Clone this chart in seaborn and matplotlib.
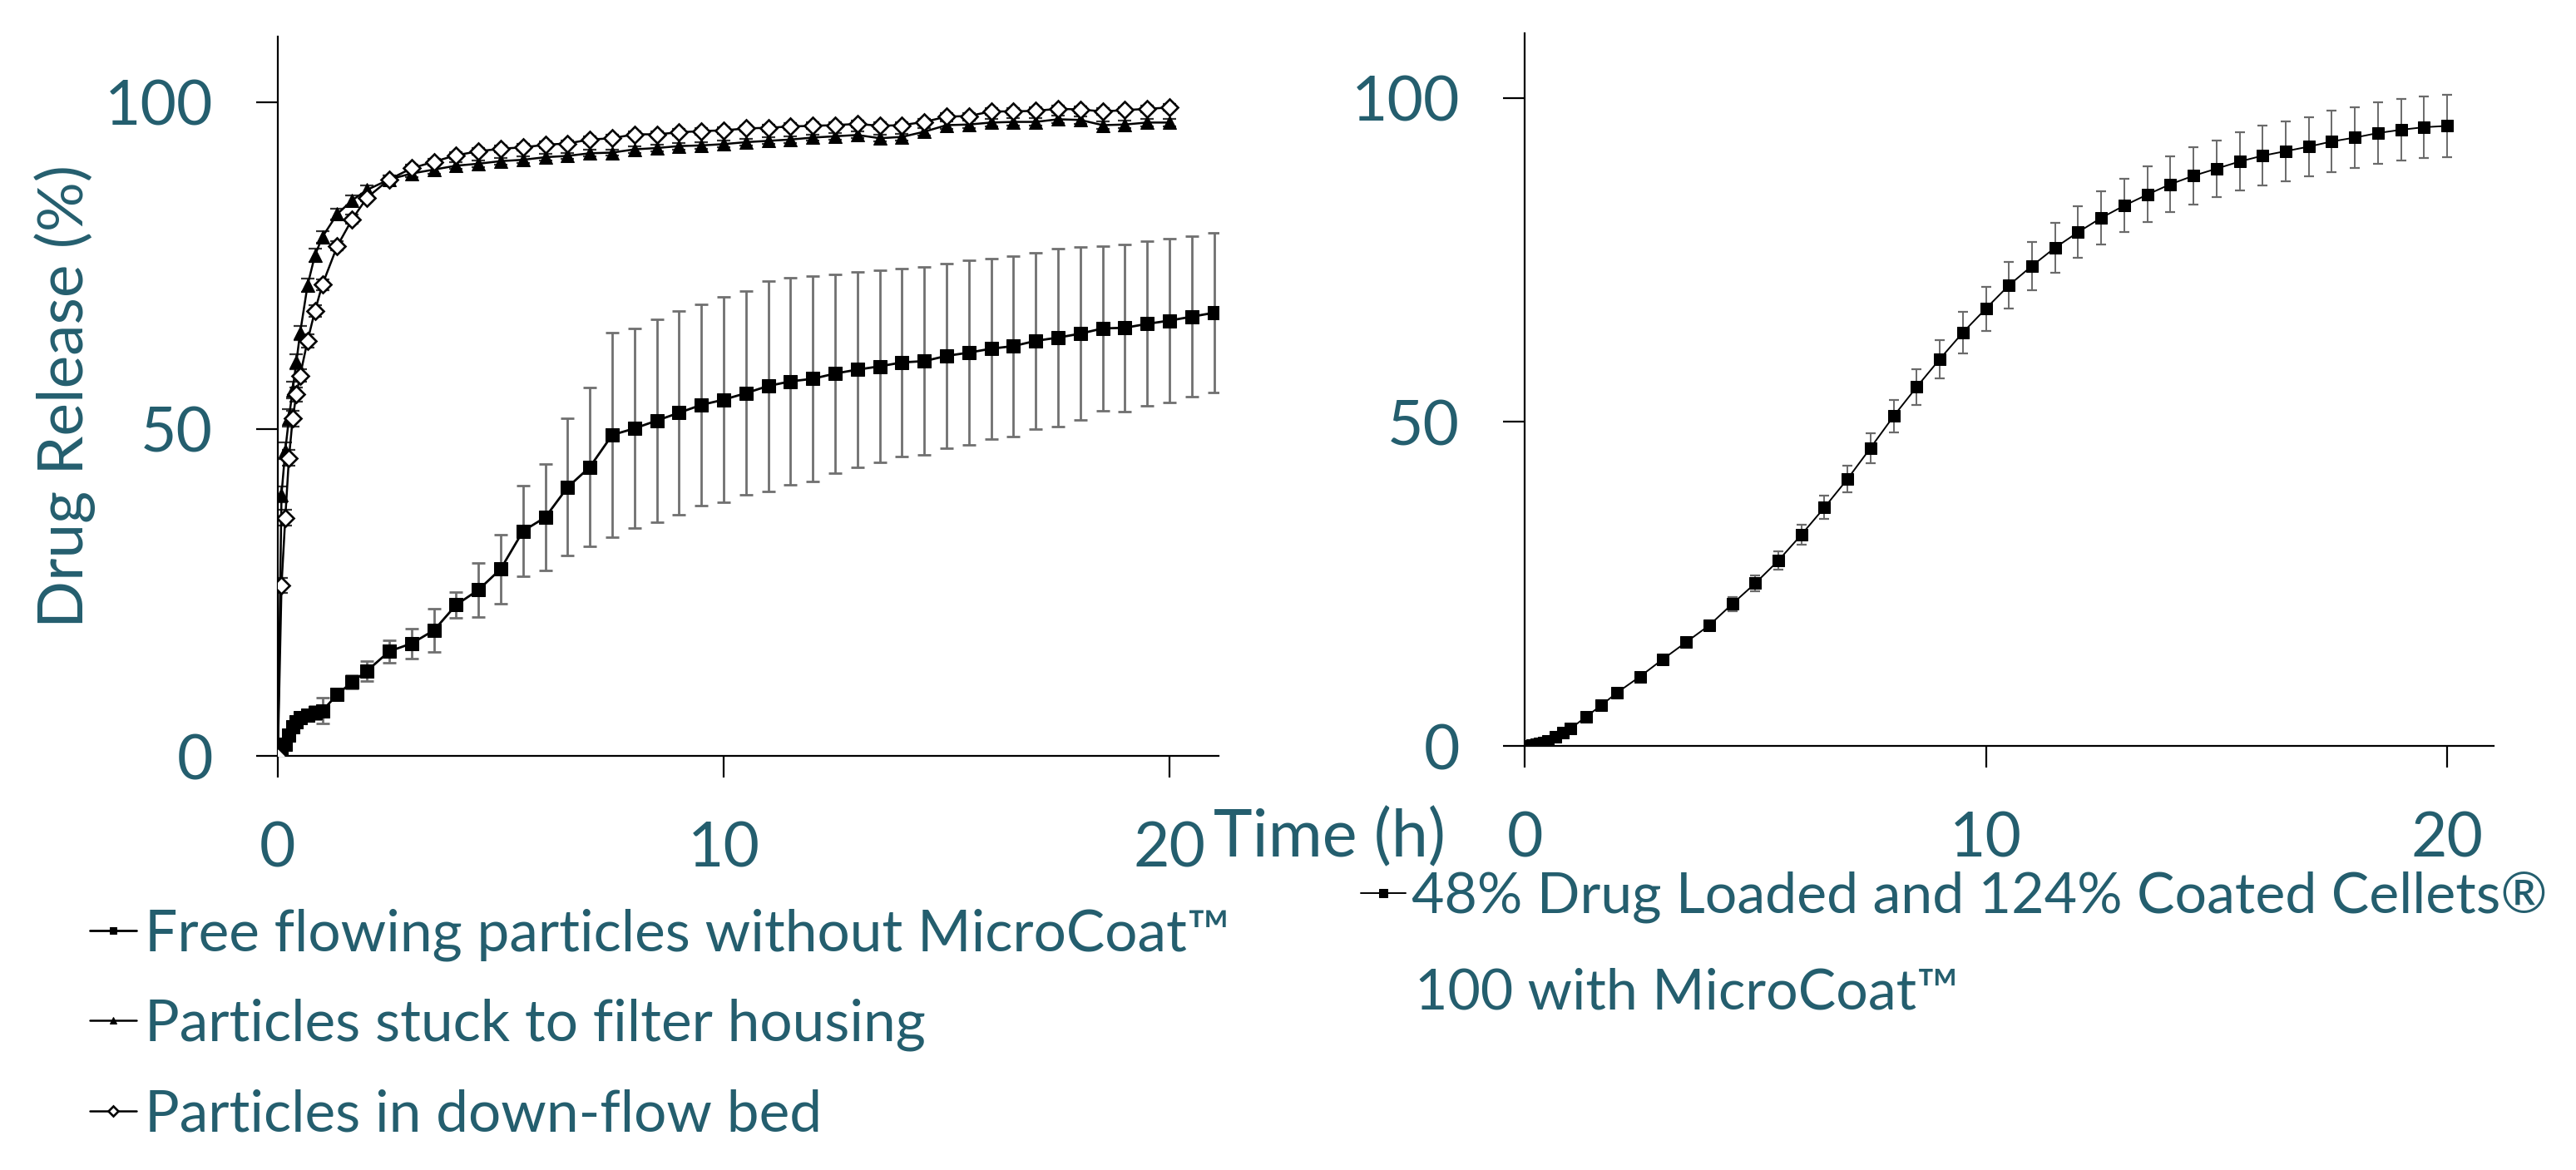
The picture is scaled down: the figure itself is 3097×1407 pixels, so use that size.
import matplotlib
matplotlib.use("Agg")
import matplotlib.pyplot as plt
import pandas as pd
import seaborn as sns

# ---------------- data ----------------
time_left = [0, 0.083, 0.167, 0.25, 0.333, 0.417, 0.5, 0.667, 0.833, 1.0, 1.333, 1.667,
             2, 2.5, 3, 3.5, 4, 4.5, 5, 5.5, 6, 6.5, 7, 7.5, 8, 8.5, 9, 9.5, 10, 10.5,
             11, 11.5, 12, 12.5, 13, 13.5, 14, 14.5, 15, 15.5, 16, 16.5, 17, 17.5, 18,
             18.5, 19, 19.5, 20, 20.5, 21]

free_release = [0, 1.0, 1.8, 3.2, 4.5, 5.2, 5.8, 6.2, 6.6, 6.9, 9.4, 11.3,
                13.0, 16.0, 17.2, 19.2, 23.1, 25.4, 28.6, 34.4, 36.5, 41.1,
                44.2, 49.1, 50.1, 51.3, 52.5, 53.7, 54.5, 55.5, 56.6, 57.3,
                57.7, 58.5, 59.1, 59.6, 60.2, 60.4, 61.2, 61.7, 62.3, 62.7,
                63.5, 64.0, 64.6, 65.4, 65.5, 66.1, 66.6, 67.2, 67.8]
free_err = [0, 0.3, 0.4, 0.5, 0.6, 0.7, 0.8, 0.9, 1.0, 2.0, 0.6, 1.0,
            1.5, 1.7, 2.3, 3.3, 2.0, 4.1, 5.3, 6.9, 8.1, 10.5,
            12.1, 15.6, 15.3, 15.5, 15.6, 15.4, 15.7, 15.6, 16.1, 15.8,
            15.7, 15.2, 15.0, 14.7, 14.4, 14.4, 14.1, 14.1, 13.8, 13.8,
            13.5, 13.6, 13.2, 12.6, 12.8, 12.6, 12.5, 12.3, 12.2]

stuck_release = [0, 40.0, 46.7, 51.7, 56.0, 60.3, 64.7, 72.0, 76.6, 79.4, 82.9, 85.0,
                 86.6, 88.2, 89.1, 89.7, 90.3, 90.6, 91.0, 91.2, 91.6, 91.8,
                 92.2, 92.3, 92.8, 93.0, 93.3, 93.4, 93.6, 93.9, 94.1, 94.3,
                 94.6, 94.8, 95.0, 94.5, 94.7, 95.5, 96.5, 96.6, 96.9, 97.0,
                 97.0, 97.4, 97.3, 96.5, 96.6, 96.9, 96.9]
stuck_err = [0, 1.2, 1.3, 1.3, 1.3, 1.2, 1.1, 1.0, 1.0, 0.9, 0.8, 0.8,
             0.7, 0.6, 0.6, 0.6, 0.5, 0.5, 0.5, 0.5, 0.5, 0.5,
             0.5, 0.5, 0.5, 0.5, 0.5, 0.5, 0.5, 0.5, 0.5, 0.5,
             0.5, 0.5, 0.5, 0.5, 0.5, 0.6, 0.6, 0.6, 0.6, 0.6,
             0.6, 0.6, 0.6, 0.6, 0.6, 0.6, 0.6]

down_release = [0, 26.1, 36.4, 45.6, 51.6, 55.3, 58.2, 63.5, 68.1, 72.1, 78.0, 82.1,
                85.4, 88.2, 89.9, 90.9, 91.9, 92.5, 92.9, 93.1, 93.5, 93.7,
                94.3, 94.5, 95.1, 95.1, 95.4, 95.6, 95.7, 96.0, 96.1, 96.3,
                96.4, 96.5, 96.7, 96.4, 96.5, 97.0, 97.8, 97.9, 98.6, 98.6,
                98.7, 99.0, 98.9, 98.6, 98.8, 99.0, 99.2]
down_err = [0, 1.1, 1.2, 1.2, 1.2, 1.1, 1.0, 1.0, 0.9, 0.8, 0.7, 0.7,
            0.6, 0.6, 0.5, 0.5, 0.5, 0.5, 0.5, 0.5, 0.5, 0.5,
            0.5, 0.5, 0.5, 0.5, 0.5, 0.5, 0.5, 0.5, 0.5, 0.5,
            0.5, 0.5, 0.5, 0.5, 0.5, 0.5, 0.5, 0.5, 0.5, 0.5,
            0.5, 0.5, 0.5, 0.5, 0.5, 0.5, 0.5]

time_right = [0, 0.083, 0.167, 0.25, 0.333, 0.417, 0.5, 0.667, 0.833, 1.0, 1.333, 1.667,
              2, 2.5, 3, 3.5, 4, 4.5, 5, 5.5, 6, 6.5, 7, 7.5, 8, 8.5, 9, 9.5, 10, 10.5,
              11, 11.5, 12, 12.5, 13, 13.5, 14, 14.5, 15, 15.5, 16, 16.5, 17, 17.5, 18,
              18.5, 19, 19.5, 20]
cellets_release = [0, 0.05, 0.15, 0.25, 0.38, 0.55, 0.8, 1.4, 2.0, 2.7, 4.5, 6.3,
                   8.2, 10.7, 13.4, 16.0, 18.6, 21.9, 25.1, 28.6, 32.6, 36.8,
                   41.2, 46.0, 50.9, 55.4, 59.7, 63.8, 67.5, 71.1, 74.1, 76.9,
                   79.3, 81.5, 83.4, 85.1, 86.7, 88.0, 89.1, 90.2, 91.1, 91.8,
                   92.5, 93.3, 93.9, 94.6, 95.1, 95.5, 95.7]
cellets_err = [0, 0.1, 0.1, 0.1, 0.1, 0.1, 0.1, 0.15, 0.2, 0.2, 0.3, 0.3,
               0.4, 0.5, 0.6, 0.7, 0.8, 1.1, 1.2, 1.4, 1.6, 1.8,
               2.1, 2.3, 2.5, 2.8, 2.95, 3.2, 3.4, 3.6, 3.7, 3.85,
               3.95, 4.1, 4.1, 4.3, 4.3, 4.4, 4.4, 4.5, 4.6, 4.6,
               4.6, 4.7, 4.7, 4.75, 4.8, 4.8, 4.8]

x_ticks = [0, 10, 20]
y_ticks = [0, 50, 100]
left_labels = ["Free flowing particles without MicroCoat\u2122",
               "Particles stuck to filter housing",
               "Particles in down-flow bed"]
right_label_1 = "48% Drug Loaded and 124% Coated Cellets\u00ae"
right_label_2 = "100 with MicroCoat\u2122"
y_title = "Drug Release (%)"
x_title = "Time (h)"

# ---------------- style ----------------
sns.set_theme(style="ticks")
plt.rcParams["font.family"] = ["Lato", "DejaVu Sans"]
TEAL = "#245E6E"

W, H = 3097, 1407
fig = plt.figure(figsize=(W / 100, H / 100), dpi=100)
fig.patch.set_facecolor("white")

axL = fig.add_axes([334 / W, 1 - 909 / H, 1131 / W, 864.6 / H])
axR = fig.add_axes([1833 / W, 1 - 897 / H, 1164.5 / W, 857 / H])

left_n = len(stuck_release)
df_free = pd.DataFrame({"t": time_left, "y": free_release, "e": free_err})
df_stuck = pd.DataFrame({"t": time_left[:left_n], "y": stuck_release, "e": stuck_err})
df_down = pd.DataFrame({"t": time_left[:left_n], "y": down_release, "e": down_err})
df_cel = pd.DataFrame({"t": time_right, "y": cellets_release, "e": cellets_err})

# error bars
axL.errorbar(df_free.t, df_free.y, yerr=df_free.e, fmt="none", ecolor="#707070",
             elinewidth=2.0, capsize=6, capthick=2.0, zorder=1)
axL.errorbar(df_stuck.t, df_stuck.y, yerr=df_stuck.e, fmt="none", ecolor="#333333",
             elinewidth=1.4, capsize=6, capthick=1.6, zorder=1)
axL.errorbar(df_down.t, df_down.y, yerr=df_down.e, fmt="none", ecolor="#333333",
             elinewidth=1.4, capsize=6, capthick=1.6, zorder=1)
axR.errorbar(df_cel.t, df_cel.y, yerr=df_cel.e, fmt="none", ecolor="#6a6a6a",
             elinewidth=1.4, capsize=4, capthick=1.6, zorder=1)

# lines (seaborn)
sns.lineplot(data=df_free, x="t", y="y", ax=axL, color="black", marker="s",
             markersize=11.5, markeredgecolor="black", linewidth=2.0, zorder=3,
             errorbar=None, sort=False, legend=False)
h_free = axL.lines[-1]
sns.lineplot(data=df_stuck, x="t", y="y", ax=axL, color="black", marker="^",
             markersize=11, markeredgecolor="black", linewidth=1.8, zorder=3,
             errorbar=None, sort=False, legend=False)
h_stuck = axL.lines[-1]
sns.lineplot(data=df_down, x="t", y="y", ax=axL, color="black", marker="D",
             markersize=10.5, markerfacecolor="white", markeredgecolor="black",
             markeredgewidth=1.9, linewidth=1.8, zorder=4,
             errorbar=None, sort=False, legend=False)
h_down = axL.lines[-1]
sns.lineplot(data=df_cel, x="t", y="y", ax=axR, color="black", marker="s",
             markersize=10, markeredgecolor="black", linewidth=1.4, zorder=3,
             errorbar=None, sort=False, legend=False)
h_cel = axR.lines[-1]

for ax, xmax in ((axL, 21.1), (axR, 21.0)):
    ax.set_xlim(0, xmax)
    ax.set_ylim(0, 110)
    ax.set_xticks(x_ticks)
    ax.set_yticks(y_ticks)
    ax.set_xlabel("")
    ax.set_ylabel("")
    for s in ("top", "right"):
        ax.spines[s].set_visible(False)
    for s in ("left", "bottom"):
        ax.spines[s].set_linewidth(1.6)
        ax.spines[s].set_color("black")
    ax.tick_params(axis="both", direction="out", length=19, width=1.6, color="black",
                   labelsize=54, labelcolor=TEAL, pad=37)
    ax.set_facecolor("white")
    ax.grid(False)

axL.set_ylabel(y_title, fontsize=54, color=TEAL)
axL.yaxis.set_label_coords(-0.1936, 0.5)

fig.text(1459 / W, 1 - 1030 / H, x_title, fontsize=57, color=TEAL,
         ha="left", va="baseline")

# legends
legL = axL.legend(handles=[h_free, h_stuck, h_down], labels=left_labels, loc="upper left",
                  bbox_to_anchor=(108 / W, 1 - 1092 / H), bbox_transform=fig.transFigure,
                  frameon=False, fontsize=50, markerscale=0.55, handlelength=0.8,
                  handletextpad=0.15, labelspacing=0.65, borderpad=0, borderaxespad=0)
for t in legL.get_texts():
    t.set_color(TEAL)

legR = axR.legend(handles=[h_cel], labels=[right_label_1], loc="upper left",
                  bbox_to_anchor=(1636 / W, 1 - 1048 / H), bbox_transform=fig.transFigure,
                  frameon=False, fontsize=49, markerscale=0.75, handlelength=0.8,
                  handletextpad=0.1, borderpad=0, borderaxespad=0)
for t in legR.get_texts():
    t.set_color(TEAL)
fig.text(1701 / W, 1 - 1194 / H, right_label_2, fontsize=49, color=TEAL,
         ha="left", va="center")

fig.savefig("out.png", dpi=100, facecolor="white")
